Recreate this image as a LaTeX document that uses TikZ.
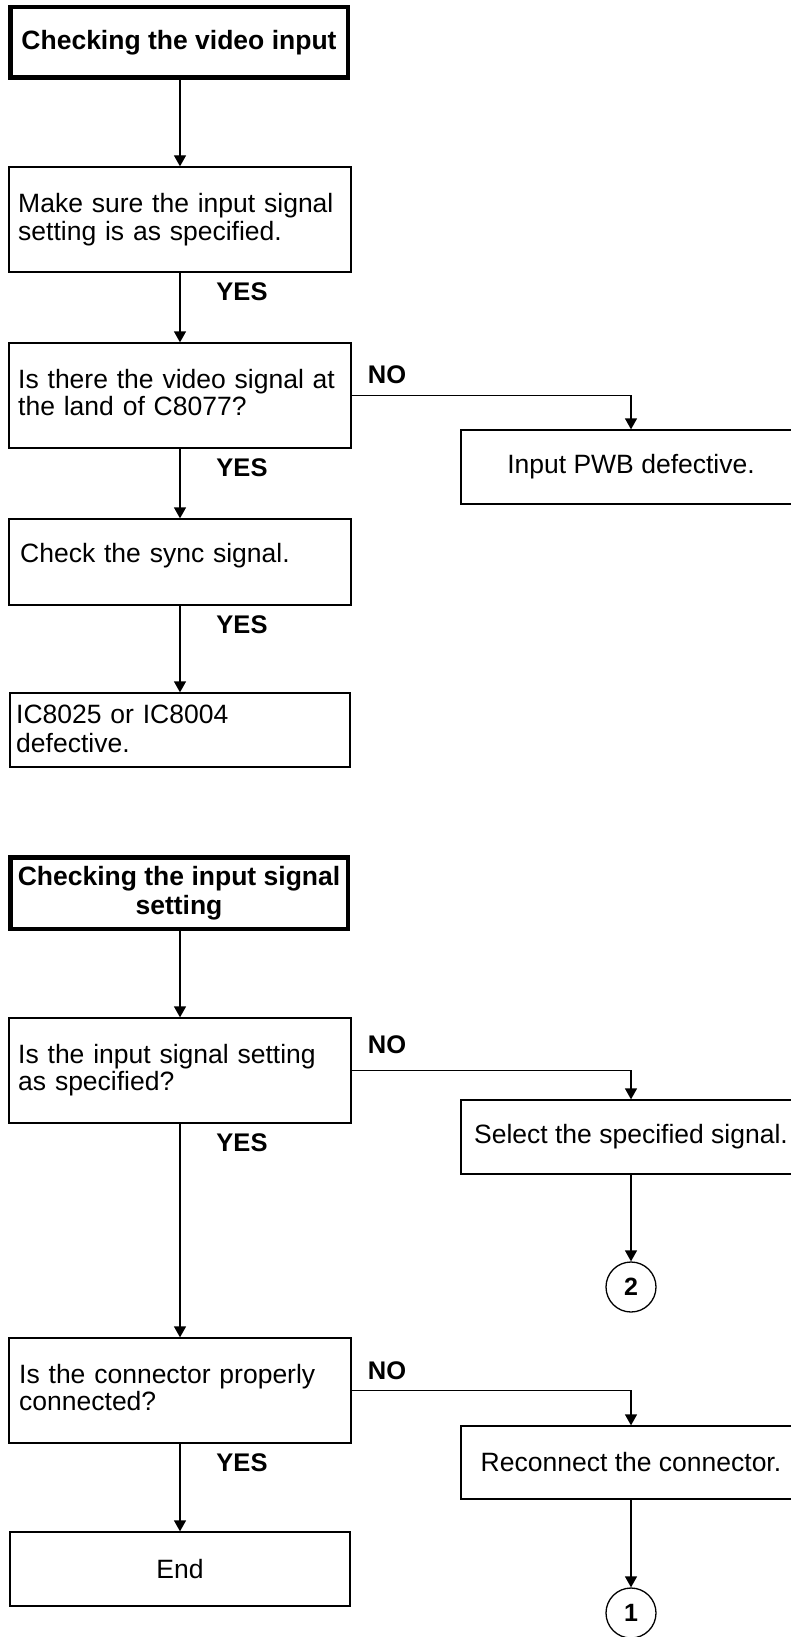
\documentclass[tikz,border=0pt]{standalone}
\usepackage{fontspec}
\setmainfont{Liberation Sans}
\usetikzlibrary{arrows.meta}
\begin{document}
\begin{tikzpicture}[x=1pt,y=-1pt,
  box/.style={draw, line width=1.3pt, inner sep=0pt, rectangle, font=\fontsize{26.5}{27.5}\selectfont},
  ttl/.style={draw, line width=4.5pt, inner sep=0pt, align=center, font=\fontsize{26.5}{29}\selectfont\bfseries},
  txt/.style={anchor=base west, inner sep=0pt, align=left, text width=325pt, font=\fontsize{26.5}{27.5}\selectfont},
  lbl/.style={inner sep=0pt, font=\fontsize{25.5}{27}\selectfont\bfseries},
  conn/.style={circle, draw, line width=1.3pt, minimum size=50pt, inner sep=0pt, font=\fontsize{25}{27}\selectfont\bfseries},
  arr/.style={line width=1.3pt, -{Triangle[width=12pt,length=11pt]}},
]
\clip (0,0) rectangle (791,1637);
\fill[white] (0,0) rectangle (791,1637);

% ---------- first chart ----------
\node[ttl, minimum width=337.5pt, minimum height=70.5pt] (t1) at (179,42.5) {Checking the video input};

\node[box, minimum width=342pt, minimum height=105pt] (b2) at (180,219.5) {};
\node[txt] (b2t) at (18,213) {Make sure the input signal\\setting is as specified.};

\node[box, minimum width=342pt, minimum height=105pt] (b3) at (180,395.5) {};
\node[txt] (b3t) at (18,388) {Is there the video signal at\\the land of C8077?};

\node[box, minimum width=340pt, minimum height=74pt] (b4) at (631,467) {Input PWB defective.};

\node[box, minimum width=342pt, minimum height=86pt] (b5) at (180,562) {};
\node[txt] (b5t) at (20,562) {Check the sync signal.};

\node[box, minimum width=340pt, minimum height=74pt] (b6) at (180,730) {};
\node[txt, font=\fontsize{26.5}{29.5}\selectfont] (b6t) at (16,723) {IC8025 or IC8004\\defective.};

\draw[arr] (b2.north |- t1.south) -- (b2.north);
\draw[arr] (b2.south) -- (b3.north);
\draw[arr] (b3.south) -- (b5.north);
\draw[arr] (b5.south) -- (b6.north);
\draw[arr] (b3.east) -| (b4.north);

\node[lbl] (y1) at (242,292) {YES};
\node[lbl] (y2) at (242,468) {YES};
\node[lbl] (y3) at (242,625) {YES};
\node[lbl] (n1) at (387,375) {NO};

% ---------- second chart ----------
\node[ttl, minimum width=337.5pt, minimum height=71.5pt] (t2) at (179,893) {Checking the input signal\\setting};

\node[box, minimum width=342pt, minimum height=105pt] (b7) at (180,1070.5) {};
\node[txt] (b7t) at (18,1063) {Is the input signal setting\\as specified?};

\node[box, minimum width=340pt, minimum height=74pt] (b8) at (631,1137) {Select the specified signal.};
\node[conn] (c2) at (631,1287) {2};

\node[box, minimum width=342pt, minimum height=105pt] (b9) at (180,1390.5) {};
\node[txt] (b9t) at (19,1383) {Is the connector properly\\connected?};

\node[box, minimum width=340pt, minimum height=73pt] (b10) at (631,1462.5) {Reconnect the connector.};
\node[conn] (c1) at (631,1613) {1};

\node[box, minimum width=340pt, minimum height=74pt] (b11) at (180,1569) {End};

\draw[arr] (b7.north |- t2.south) -- (b7.north);
\draw[arr] (b7.south) -- (b9.north);
\draw[arr] (b9.south) -- (b11.north);
\draw[arr] (b7.east) -| (b8.north);
\draw[arr] (b9.east) -| (b10.north);
\draw[arr] (b8.south) -- (c2.north);
\draw[arr] (b10.south) -- (c1.north);

\node[lbl] (y4) at (242,1143) {YES};
\node[lbl] (y5) at (242,1463) {YES};
\node[lbl] (n2) at (387,1045) {NO};
\node[lbl] (n3) at (387,1371) {NO};
\end{tikzpicture}
\end{document}
